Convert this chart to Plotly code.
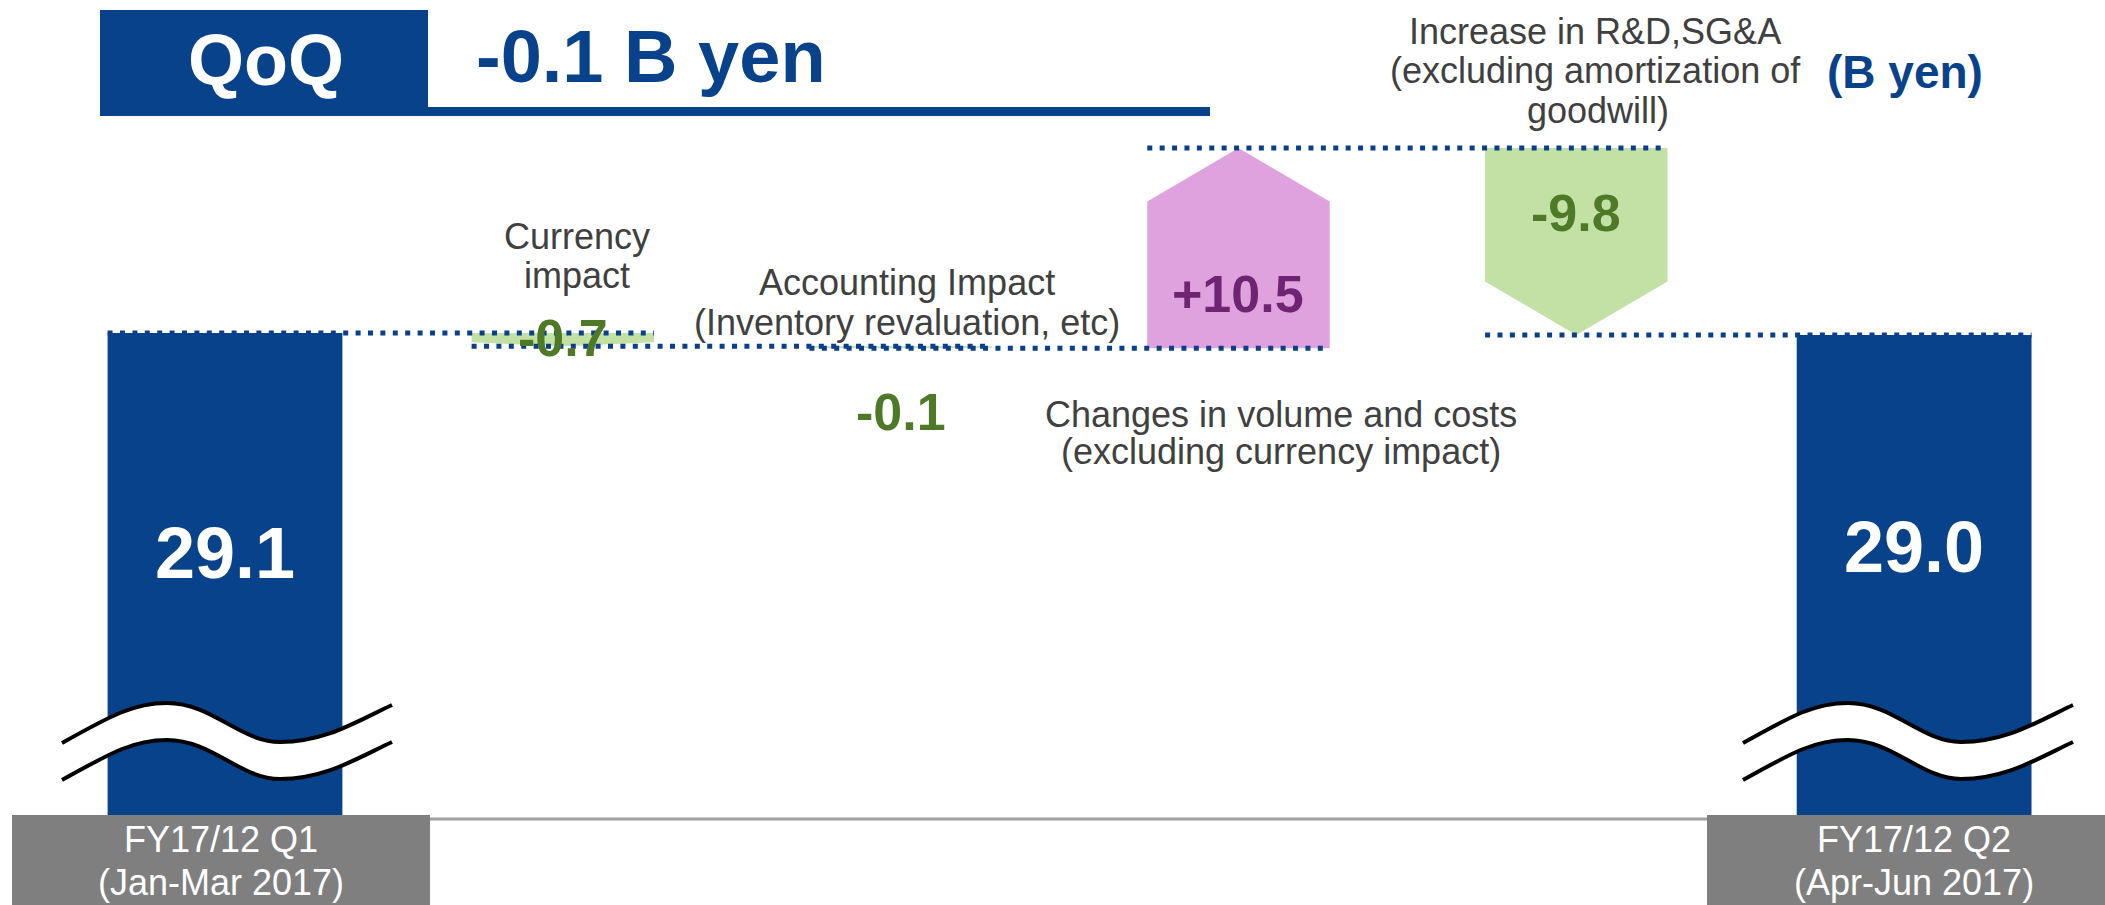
import plotly.graph_objects as go

# ---- data ----
categories = ["FY17/12 Q1", "Currency impact", "Accounting Impact",
              "Changes in volume and costs", "Increase in R&D,SG&A", "FY17/12 Q2"]
category_lines = [
    ["FY17/12 Q1", "(Jan-Mar 2017)"],
    ["Currency", "impact"],
    ["Accounting Impact", "(Inventory revaluation, etc)"],
    ["Changes in volume and costs", "(excluding currency impact)"],
    ["Increase in R&D,SG&A", "(excluding amortization of", "goodwill)"],
    ["FY17/12 Q2", "(Apr-Jun 2017)"],
]
totals = [29.1, 29.0]
total_labels = ["29.1", "29.0"]
changes = [-0.7, -0.1, 10.5, -9.8]
change_labels = ["-0.7", "-0.1", "+10.5", "-9.8"]
qoq_title = "QoQ"
qoq_value = "-0.1 B yen"
unit_label = "(B yen)"

# ---- style ----
W, H = 2105, 905
FONT = "Liberation Sans, Arial, sans-serif"
NAVY = "#08428A"
DOT = "#0A3F8C"
PINK = "#DFA2DF"
PURPLE = "#6E2472"
GREEN = "#C3E0A5"
DKGREEN = "#4E7A28"
GREY_TXT = "#404040"
GREY_BOX = "#7F7F7F"

X_RANGE = [-0.666, 5.565]
Y_RANGE = [-0.89, 46.56]   # axis is cut, the bars run down behind the period boxes
BAR_W = 0.695
ARROW_HW = 0.27


def px(x):
    return x / W


def py(y):
    return 1 - y / H


def note(text, x, y, size, color, bold=False, xref="paper"):
    return dict(text=text, x=x if xref == "x" else px(x), y=py(y),
                xref=xref, yref="paper", xanchor="center", yanchor="middle",
                showarrow=False,
                font=dict(family=FONT, size=size, color=color,
                          weight="bold" if bold else "normal"))


fig = go.Figure()

# total bars
fig.add_trace(go.Bar(x=[0, len(categories) - 1], y=totals, width=BAR_W,
                     marker=dict(color=NAVY, line_width=0), hoverinfo="skip"))

# change arrows
levels = [totals[0]]
for c in changes:
    levels.append(round(levels[-1] + c, 2))

for k, c in enumerate(changes):
    i = k + 1
    y0, y1 = levels[k], levels[k + 1]
    head = min(abs(c) * 0.3, 2.8) * (1 if c > 0 else -1)
    xs = [i - ARROW_HW, i - ARROW_HW, i, i + ARROW_HW, i + ARROW_HW, i - ARROW_HW]
    ys = [y0, y1 - head, y1, y1 - head, y0, y0]
    fig.add_trace(go.Scatter(x=xs, y=ys, fill="toself", mode="none",
                             fillcolor=PINK if c > 0 else GREEN,
                             hoverinfo="skip"))

# dotted connectors
half = [BAR_W / 2] + [ARROW_HW] * len(changes) + [BAR_W / 2]
for j, lv in enumerate(levels):
    fig.add_trace(go.Scatter(x=[j - half[j], j + 1 + half[j + 1]], y=[lv, lv],
                             mode="lines", hoverinfo="skip",
                             line=dict(color=DOT, width=5, dash="5px,7.4px")))

shapes = []
# header
shapes.append(dict(type="rect", xref="paper", yref="paper", x0=px(100), x1=px(428),
                   y0=py(116), y1=py(10), fillcolor=NAVY, line_width=0, layer="above"))
shapes.append(dict(type="rect", xref="paper", yref="paper", x0=px(428), x1=px(1210),
                   y0=py(116), y1=py(107), fillcolor=NAVY, line_width=0, layer="above"))


# axis break symbols
def wave(x0, y0):
    pts = [(x0, y0), (x0 + 50, y0 - 28), (x0 + 72, y0 - 40), (x0 + 105, y0 - 40),
           (x0 + 150, y0 - 40), (x0 + 178, y0 - 1), (x0 + 218, y0 - 1),
           (x0 + 262, y0 - 1), (x0 + 292, y0 - 20), (x0 + 330, y0 - 38)]
    return pts


def curve(pts, start=True):
    s = ("M %.5f,%.5f" % (px(pts[0][0]), py(pts[0][1]))) if start else ""
    for a in range(1, len(pts), 3):
        s += " C " + " ".join("%.5f,%.5f" % (px(p[0]), py(p[1])) for p in pts[a:a + 3])
    return s


for x0 in (62, 1743):
    up = wave(x0, 743)
    lo = wave(x0, 780)
    fill = curve(up) + " L %.5f,%.5f" % (px(lo[-1][0]), py(lo[-1][1]))
    fill += curve(lo[::-1], start=False) + " Z"
    shapes.append(dict(type="path", path=fill, xref="paper", yref="paper",
                       fillcolor="white", line_width=0, layer="above"))
    for pts in (up, lo):
        shapes.append(dict(type="path", path=curve(pts), xref="paper", yref="paper",
                           line=dict(color="black", width=4), layer="above"))

# baseline and period boxes
shapes.append(dict(type="line", xref="paper", yref="paper", x0=px(430), x1=px(1707),
                   y0=py(819), y1=py(819), line=dict(color="#A0A0A0", width=3),
                   layer="above"))
shapes.append(dict(type="rect", xref="paper", yref="paper", x0=px(12), x1=px(430),
                   y0=0, y1=py(815), fillcolor=GREY_BOX, line_width=0, layer="above"))
shapes.append(dict(type="rect", xref="paper", yref="paper", x0=px(1707), x1=1,
                   y0=0, y1=py(815), fillcolor=GREY_BOX, line_width=0, layer="above"))

ann = []
ann.append(note(qoq_title, 266, 60, 72, "white", bold=True))
ann.append(dict(text=qoq_value, x=px(474), y=py(57), xref="paper", yref="paper",
                xanchor="left", yanchor="middle", showarrow=False,
                font=dict(family=FONT, size=74, color=NAVY, weight="bold")))
ann.append(note(unit_label, 1905, 72, 46, NAVY, bold=True))

# category notes (line centres in px)
note_pos = [
    [(221, 839), (221, 882)],
    [(577, 236), (577, 275)],
    [(907, 282), (907, 322)],
    [(1281, 414), (1281, 451)],
    [(1595, 32), (1595, 70), (1598, 110)],
    [(1914, 839), (1914, 882)],
]
for i, lines in enumerate(category_lines):
    col = "white" if i in (0, len(categories) - 1) else GREY_TXT
    for t, (x, y) in zip(lines, note_pos[i]):
        ann.append(note(t, x, y, 36, col))

# values
total_y = [553, 547]
for t, idx, y in zip(total_labels, [0, len(categories) - 1], total_y):
    ann.append(note(t, idx, y, 72, "white", bold=True, xref="x"))
change_y = [338, 412, 294, 213]
for k, (t, y) in enumerate(zip(change_labels, change_y)):
    ann.append(note(t, k + 1, y, 52, PURPLE if changes[k] > 0 else DKGREEN,
                    bold=True, xref="x"))

fig.update_layout(
    width=W, height=H,
    margin=dict(l=0, r=0, t=0, b=0),
    paper_bgcolor="white", plot_bgcolor="white",
    showlegend=False,
    xaxis=dict(range=X_RANGE, visible=False, fixedrange=True),
    yaxis=dict(range=Y_RANGE, visible=False, fixedrange=True),
    shapes=shapes,
    annotations=ann,
    font=dict(family=FONT),
)

fig.write_html("out.html", config={"displayModeBar": False},
               post_script="document.body.style.margin='0';document.body.style.overflow='hidden';")
